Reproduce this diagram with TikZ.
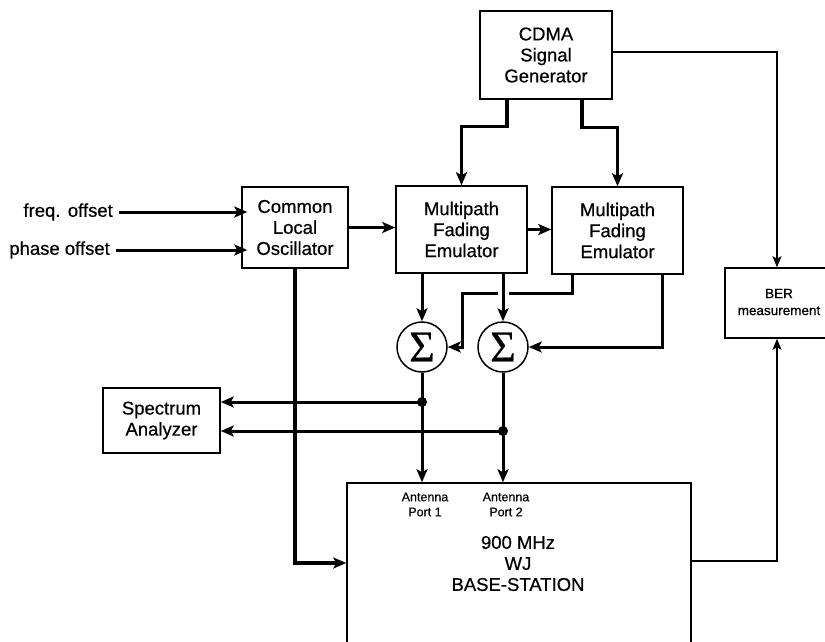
\documentclass[tikz,border=0pt]{standalone}
\usepackage{fontspec}
\setmainfont{Liberation Sans}[FakeBold=0.5]
\newfontfamily\sigfont{Liberation Serif}[FakeBold=0.5]
\usetikzlibrary{arrows.meta,calc}
\begin{document}
\begin{tikzpicture}[x=1pt,y=-1pt,
  box/.style={draw,line width=1.5pt,inner sep=0pt,align=center,font=\fontsize{18.5}{21}\selectfont},
  txt/.style={inner sep=0pt,align=center,font=\fontsize{18.5}{21}\selectfont},
  small/.style={inner sep=0pt,align=center,font=\fontsize{12.5}{15}\selectfont},
  bersmall/.style={inner sep=0pt,align=center,font=\fontsize{13.5}{17}\selectfont},
  sumnode/.style={draw,circle,line width=1.5pt,minimum size=50pt,inner sep=0pt,font=\sigfont\fontsize{44}{44}\selectfont},
  thickc/.style={line width=3.2pt,-{Stealth[length=13pt,width=11pt,inset=3pt]}},
  medc/.style={line width=3pt,-{Stealth[length=13pt,width=11pt,inset=3pt]}},
  thinc/.style={line width=1.6pt,-{Stealth[length=11pt,width=9pt,inset=2.5pt]}},
  junction/.style={circle,fill,inner sep=0pt,minimum size=10pt}
]
\useasboundingbox (0,0) rectangle (825,641);
\clip (0,0) rectangle (825,641);

% boxes
\node[box,minimum width=132pt,minimum height=88pt] (cdma) at (546,55) {CDMA\\Signal\\Generator};
\node[box,minimum width=131pt,minimum height=87pt] (mfe1) at (461.5,229.5) {Multipath\\Fading\\Emulator};
\node[box,minimum width=131pt,minimum height=87pt] (mfe2) at (617.5,230.5) {Multipath\\Fading\\Emulator};
\node[box,minimum width=106pt,minimum height=81pt] (clo) at (295,227.5) {Common\\Local\\Oscillator};
\node[box,minimum width=117pt,minimum height=65pt] (sa) at (161.5,420.5) {Spectrum\\Analyzer};
\node[box,minimum width=104pt,minimum height=70pt] (ber) at (777,303) {};
\node[bersmall] (bertxt) at (779,302) {BER\\measurement};
\node[box,minimum width=344pt,minimum height=217pt] (bs) at (519,591.5) {};
\node[small] (p1) at (425,504.5) {Antenna\\Port 1};
\node[small] (p2) at (506,504.5) {Antenna\\Port 2};
\node[txt] (bslabel) at (518,563.5) {900 MHz\\WJ\\BASE-STATION};

% sums
\node[sumnode] (s1) at (422,347) {Σ};
\node[sumnode] (s2) at (503,347) {Σ};

% inputs
\node[txt,anchor=east] (freq) at (113,212) {freq.\hspace{0.4em}offset};
\node[txt,anchor=east] (phase) at (110,250) {phase offset};
\draw[medc] ([xshift=6pt]freq.east) -- ([xshift=6pt]freq.east -| clo.west);
\draw[medc] ([xshift=6pt]phase.east) -- ([xshift=6pt]phase.east -| clo.west);

% CDMA connections
\draw[thickc] ([xshift=-39pt]cdma.south) -- ++(0,27) -| (mfe1.north);
\draw[thickc] ([xshift=36pt]cdma.south) -- ++(0,28) -| (mfe2.north);
\draw[thinc] ([yshift=3pt]cdma.east) -| (ber.north);

% LO connections
\draw[medc] (clo.east) -- (clo.east -| mfe1.west);
\draw[medc] (mfe1.east) -- (mfe1.east -| mfe2.west);
\draw[thickc] (clo.south) |- ([yshift=28.5pt]bs.west);

% MFE2 cross path to sum 1
\coordinate (m2a) at ([xshift=21pt]mfe2.south west);
\coordinate (hy) at (0,293);
\draw[medc] (m2a) |- (462,293) |- (s1.east);
\fill[white] ($(s2.north |- hy)+(-5.5,-3)$) rectangle ++(11,6);
\draw[medc] ([xshift=-21pt]mfe2.south east) |- (s2.east);

% MFE1 outputs
\draw[medc] (s1.north |- mfe1.south) -- (s1.north);
\draw[medc] (s2.north |- mfe1.south) -- (s2.north);

% sum outputs
\draw[medc] (s1.south) -- (s1.south |- bs.north);
\draw[medc] (s2.south) -- (s2.south |- bs.north);
\coordinate (r1) at (0,402);
\coordinate (r2) at (0,431);
\node[junction] (d1) at (s1.south |- r1) {};
\node[junction] (d2) at (s2.south |- r2) {};
\draw[medc] (d1.center) -- (d1.center -| sa.east);
\draw[medc] (d2.center) -- (d2.center -| sa.east);

% BS to BER
\draw[thinc] ([yshift=30.5pt]bs.east) -| (ber.south);
\end{tikzpicture}
\end{document}
